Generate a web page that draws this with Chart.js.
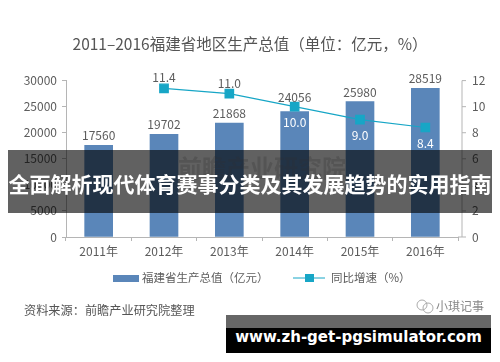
<!DOCTYPE html>
<html>
<head>
    <title>福建省地区生产总值</title>
    <script src="https://cdn.jsdelivr.net/npm/chart.js"></script>
    <style>
        html, body { margin: 0; background: #fff; }
        #wrap { position: relative; width: 500px; height: 362px; overflow: hidden; }
        #wrap canvas { filter: blur(0.45px); }
        .abs { position: absolute; white-space: nowrap; }
        #banner { left: 8px; top: 150px; width: 484px; height: 63px; background: rgba(0,0,0,.62);
            color: #fff; text-align: center; font: bold 21px/67px "Noto Sans CJK SC"; }
        #siteTop { left: 226px; top: 315px; width: 265px; height: 13px; background: #666; }
        #site { left: 226px; top: 328px; width: 265px; height: 25px; background: #000; color: #fff; text-align: center;
            font: bold 15px/19px "DejaVu Sans"; }
        #source { left: 24px; top: 300px; color: #555; font: 12.2px/20px "Noto Sans CJK SC"; }
        #mark { left: 436px; top: 296px; color: #888; font: 12px/20px "Noto Sans CJK SC"; }
    </style>
</head>
<body>
<div id="wrap">
    <canvas id="myChart" width="500" height="362"></canvas>
    <div class="abs" id="source">资料来源：前瞻产业研究院整理</div>
    <div class="abs" id="mark">小琪记事</div>
    <div class="abs" id="banner">全面解析现代体育赛事分类及其发展趋势的实用指南</div>
    <div class="abs" id="siteTop"></div>
    <div class="abs" id="site">www.zh-get-pgsimulator.com</div>
</div>
<script>
const years = ['2011年', '2012年', '2013年', '2014年', '2015年', '2016年'];
const gdp = [17560, 19702, 21868, 24056, 25980, 28519];
const growth = [null, 11.4, 11.0, 10.0, 9.0, 8.4];
const gdpTicks = [0, 5000, 10000, 15000, 20000, 25000, 30000];
const growthTicks = [0, 2, 4, 6, 8, 10, 12];

const fontName = '"Noto Sans CJK SC", "Liberation Sans"';
const textColor = '#5c5c5c';
const axisColor = '#b5b5b5';
const barColor = '#5a86b9';
const lineColor = '#17a6c6';

// value labels, right axis rule and legend are drawn after the chart
const extras = {
    id: 'extras',
    afterDatasetsDraw(chart) {
        const c = chart.ctx;
        const bars = chart.getDatasetMeta(0).data;
        const pts = chart.getDatasetMeta(1).data;
        const right = chart.scales.y1;
        c.save();

        // faint watermark behind the banner
        c.fillStyle = 'rgba(120,120,120,.25)';
        c.font = 'bold 24px ' + fontName;
        c.textAlign = 'left';
        c.textBaseline = 'middle';
        c.fillText('前瞻产业研究院', 178, 168);

        c.font = '12px ' + fontName;
        c.textAlign = 'center';
        c.textBaseline = 'alphabetic';
        c.fillStyle = textColor;
        // 2014 label is lifted clear of the line marker
        bars.forEach((b, i) => c.fillText(gdp[i], b.x, b.y - (i === 3 ? 10 : 5)));

        growth.forEach((v, i) => {
            if (v === null) return;
            const below = i >= 3;
            c.fillStyle = below ? '#fff' : textColor;
            c.fillText(v.toFixed(1), pts[i].x, below ? pts[i].y + 20 : pts[i].y - 6);
        });

        // right axis sits a little outside the plot
        const x = 462;
        c.strokeStyle = axisColor;
        c.beginPath();
        c.moveTo(x, right.getPixelForValue(0));
        c.lineTo(x, right.getPixelForValue(12));
        growthTicks.forEach(t => {
            c.moveTo(x, right.getPixelForValue(t));
            c.lineTo(x + 4, right.getPixelForValue(t));
        });
        c.moveTo(chart.chartArea.right, right.getPixelForValue(0));
        c.lineTo(x, right.getPixelForValue(0));
        c.stroke();

        // legend
        c.textAlign = 'left';
        c.textBaseline = 'middle';
        c.font = '11.5px ' + fontName;
        c.fillStyle = barColor;
        c.fillRect(113, 275, 26, 7);
        c.fillStyle = textColor;
        c.fillText(chart.data.datasets[0].label, 142, 278);
        c.strokeStyle = lineColor;
        c.beginPath();
        c.moveTo(293, 278);
        c.lineTo(325, 278);
        c.stroke();
        c.fillStyle = lineColor;
        c.fillRect(305, 274, 9, 8);
        c.fillStyle = textColor;
        c.fillText(chart.data.datasets[1].label, 331, 278);

        // wechat mark next to the account name
        c.strokeStyle = '#aaa';
        c.beginPath();
        c.arc(422, 305, 5, 0, Math.PI * 2);
        c.moveTo(433, 308);
        c.arc(428, 308, 5, 0, Math.PI * 2);
        c.stroke();
        c.restore();
    }
};

new Chart(document.getElementById('myChart').getContext('2d'), {
    type: 'bar',
    data: {
        labels: years,
        datasets: [{
            label: '福建省生产总值（亿元）',
            data: gdp,
            backgroundColor: barColor,
            barThickness: 28,
            yAxisID: 'y',
            order: 2
        }, {
            type: 'line',
            label: '同比增速（%）',
            data: growth,
            borderColor: lineColor,
            borderWidth: 1.2,
            backgroundColor: lineColor,
            pointStyle: 'rect',
            pointRadius: 6,
            yAxisID: 'y1',
            order: 1
        }]
    },
    options: {
        responsive: false,
        animation: false,
        plugins: {
            legend: { display: false },
            tooltip: { enabled: false },
            title: {
                display: true,
                text: '2011–2016福建省地区生产总值（单位：亿元，%）',
                color: '#555',
                font: { family: fontName, size: 15.5, weight: 'normal' },
                padding: { top: 35, bottom: 27 }
            }
        },
        scales: {
            x: {
                afterFit(s) { s.height = 125; },
                border: { color: axisColor },
                grid: { drawOnChartArea: false, tickLength: 4, color: axisColor },
                ticks: { color: textColor, font: { family: fontName, size: 12 }, padding: 3, maxRotation: 0 }
            },
            y: {
                min: 0,
                max: 30000,
                afterFit(s) { s.width = 66; },
                afterBuildTicks(s) { s.ticks = gdpTicks.map(value => ({ value })); },
                border: { color: axisColor },
                grid: { drawOnChartArea: false, tickLength: 4, color: axisColor },
                ticks: { color: textColor, font: { family: fontName, size: 12 }, padding: 5, callback: v => String(v) }
            },
            y1: {
                position: 'right',
                min: 0,
                max: 12,
                afterFit(s) { s.width = 42; },
                afterBuildTicks(s) { s.ticks = growthTicks.map(value => ({ value })); },
                border: { display: false },
                grid: { display: false, drawTicks: false },
                ticks: { color: textColor, font: { family: fontName, size: 12 }, padding: 14 }
            }
        }
    },
    plugins: [extras]
});
</script>
</body>
</html>
